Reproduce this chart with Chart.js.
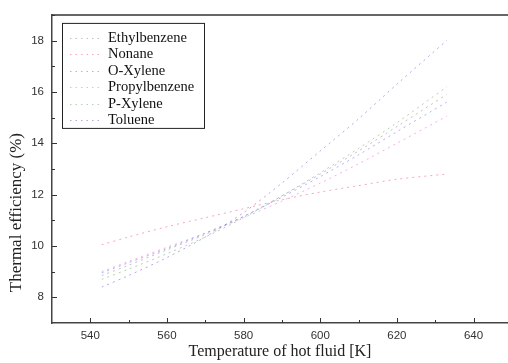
<!DOCTYPE html>
<html>
<head>
<meta charset="utf-8">
<script src="https://cdn.jsdelivr.net/npm/chart.js@4.4.0/dist/chart.umd.min.js"></script>
<style>
html, body { margin: 0; padding: 0; background: #fff; }
</style>
</head>
<body>
<canvas id="chart" width="508" height="363"></canvas>
<script>
// temperature of hot fluid [K]
const temps = [543, 550, 560, 570, 580, 590, 600, 610, 620, 633];

// thermal efficiency (%) per fluid
const ethylbenzene  = [8.85, 9.25, 9.85, 10.45, 11.15, 11.95, 12.8, 13.7, 14.65, 15.9];
const nonane        = [10.05, 10.35, 10.75, 11.1, 11.45, 11.8, 12.1, 12.35, 12.6, 12.8];
const oXylene       = [8.95, 9.35, 9.9, 10.5, 11.15, 11.9, 12.7, 13.55, 14.45, 15.6];
const propylbenzene = [9.0, 9.4, 9.95, 10.5, 11.1, 11.75, 12.45, 13.2, 14.0, 15.05];
const pXylene       = [8.7, 9.1, 9.7, 10.35, 11.1, 11.95, 12.85, 13.8, 14.8, 16.2];
const toluene       = [8.4, 8.85, 9.55, 10.35, 11.3, 12.45, 13.7, 14.95, 16.3, 18.0];

const names = ['Ethylbenzene', 'Nonane', 'O-Xylene', 'Propylbenzene', 'P-Xylene', 'Toluene'];
const series = [ethylbenzene, nonane, oXylene, propylbenzene, pXylene, toluene];
const colors = [
	'rgba(140, 140, 150, 0.55)',
	'rgba(240, 110, 140, 0.6)',
	'rgba(100, 100, 240, 0.5)',
	'rgba(235, 100, 215, 0.5)',
	'rgba(110, 175, 120, 0.55)',
	'rgba(120, 100, 200, 0.55)',
];

const xTicks = [540, 560, 580, 600, 620, 640];
const yTicks = [8, 10, 12, 14, 16, 18];
const xTitle = 'Temperature of hot fluid [K]';
const yTitle = 'Thermal efficiency (%)';

// frame top line, inward major/minor ticks, axis titles
const frame = {
	id: 'frame',
	afterDraw(chart) {
		const {ctx, chartArea: a, scales: {x, y}} = chart;
		ctx.save();
		ctx.strokeStyle = '#333';
		ctx.lineWidth = 1.5;
		ctx.beginPath();
		ctx.moveTo(a.left, a.top);
		ctx.lineTo(a.right, a.top);
		ctx.stroke();

		ctx.lineWidth = 1;
		const tick = (x1, y1, x2, y2) => {
			ctx.beginPath();
			ctx.moveTo(x1, y1);
			ctx.lineTo(x2, y2);
			ctx.stroke();
		};
		xTicks.forEach(v => {
			const px = Math.round(x.getPixelForValue(v)) + 0.5;
			tick(px, a.bottom, px, a.bottom - 5);
			const mx = Math.round(x.getPixelForValue(v + 10)) + 0.5;
			if (mx < a.right) tick(mx, a.bottom, mx, a.bottom - 3);
		});
		yTicks.forEach(v => {
			const py = Math.round(y.getPixelForValue(v)) + 0.5;
			tick(a.left, py, a.left + 5, py);
			const my = Math.round(y.getPixelForValue(v + 1)) + 0.5;
			if (my > a.top) tick(a.left, my, a.left + 3, my);
		});

		ctx.fillStyle = '#222';
		ctx.textAlign = 'center';
		ctx.textBaseline = 'middle';
		ctx.font = '16px "Liberation Serif", "Times New Roman", serif';
		ctx.fillText(xTitle, (a.left + a.right) / 2, 352);
		ctx.translate(17, y.getPixelForValue(11.3));
		ctx.rotate(-Math.PI / 2);
		ctx.font = '17px "Liberation Serif", "Times New Roman", serif';
		ctx.fillText(yTitle, 0, 0);
		ctx.restore();
	}
};

// boxed legend in the upper left of the plot
const boxLegend = {
	id: 'boxLegend',
	afterDatasetsDraw(chart) {
		const {ctx, chartArea: a} = chart;
		const bx = a.left + 10, by = a.top + 8, bw = 142, bh = 105;
		ctx.save();
		ctx.fillStyle = '#fff';
		ctx.fillRect(bx, by, bw, bh);
		ctx.strokeStyle = '#222';
		ctx.lineWidth = 1;
		ctx.strokeRect(bx + 0.5, by + 0.5, bw, bh);
		ctx.font = '14.5px "Liberation Serif", "Times New Roman", serif';
		ctx.textBaseline = 'middle';
		chart.data.datasets.forEach((ds, i) => {
			const ly = Math.round(by + 15 + i * 16.5) + 0.5;
			ctx.strokeStyle = ds.borderColor;
			ctx.setLineDash([1.5, 4]);
			ctx.beginPath();
			ctx.moveTo(bx + 8, ly);
			ctx.lineTo(bx + 40, ly);
			ctx.stroke();
			ctx.setLineDash([]);
			ctx.fillStyle = '#111';
			ctx.fillText(ds.label, bx + 46, ly);
		});
		ctx.restore();
	}
};

const tickFont = {size: 11.5, family: '"Liberation Sans", Arial, sans-serif'};

new Chart(document.getElementById('chart'), {
	type: 'line',
	data: {
		datasets: series.map((vals, i) => ({
			label: names[i],
			data: temps.map((t, j) => ({x: t, y: vals[j]})),
			borderColor: colors[i],
			borderWidth: 1,
			borderDash: [2, 4],
			pointRadius: 0,
			tension: 0.3,
			fill: false,
		}))
	},
	options: {
		responsive: false,
		animation: false,
		devicePixelRatio: 1,
		layout: {
			padding: {top: 12, right: 0, left: 0, bottom: 0}
		},
		scales: {
			x: {
				type: 'linear',
				min: 530,
				max: 649,
				afterFit(scale) { scale.height = 40; },
				afterBuildTicks(scale) { scale.ticks = xTicks.map(v => ({value: v})); },
				border: {display: true, color: '#444', width: 1.5},
				grid: {display: false, drawTicks: false},
				ticks: {color: '#333', font: tickFont, padding: 6, maxRotation: 0},
			},
			y: {
				min: 7,
				max: 19,
				afterFit(scale) { scale.width = 52; },
				afterBuildTicks(scale) { scale.ticks = yTicks.map(v => ({value: v})); },
				border: {display: true, color: '#444', width: 1.5},
				grid: {display: false, drawTicks: false},
				ticks: {color: '#333', font: tickFont, padding: 8},
			}
		},
		plugins: {
			legend: {display: false},
			tooltip: {enabled: false},
		}
	},
	plugins: [frame, boxLegend]
});
</script>
</body>
</html>
